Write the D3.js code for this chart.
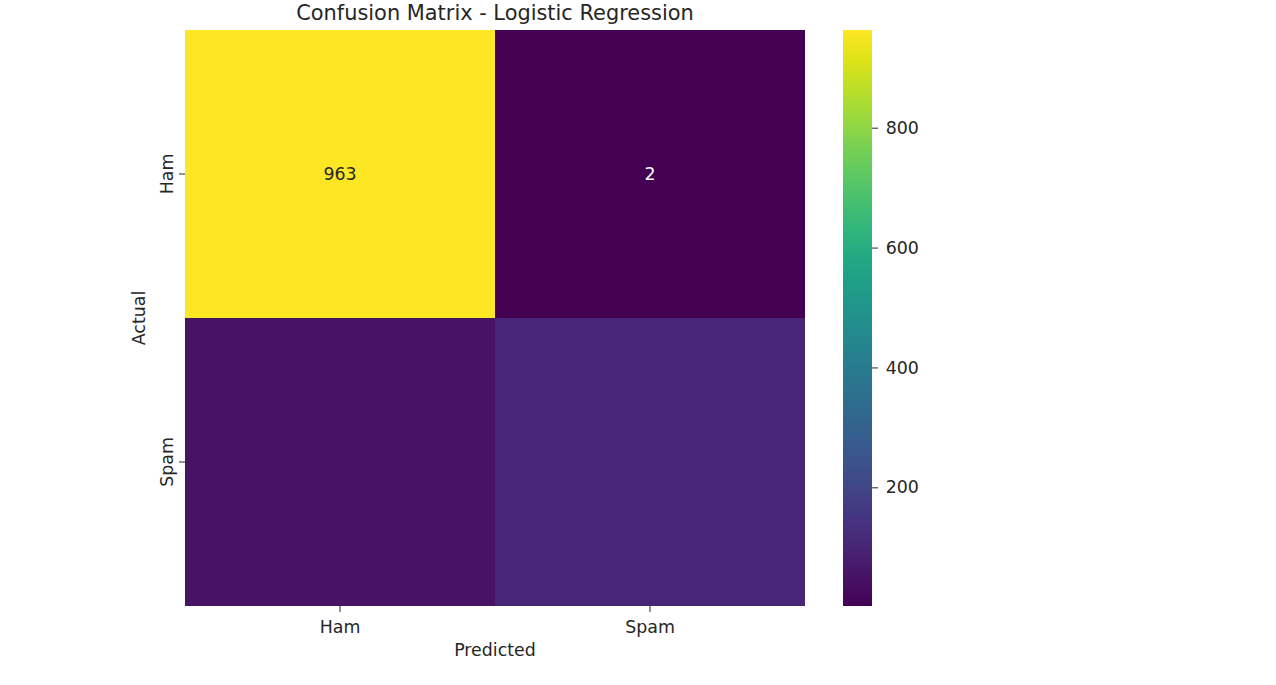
<!DOCTYPE html>
<html>
<head>
<meta charset="utf-8">
<script src="https://cdn.jsdelivr.net/npm/d3@7"></script>
<style>
  html, body { margin: 0; padding: 0; background: #fff; }
  svg { display: block; font-family: "DejaVu Sans", sans-serif; }
</style>
</head>
<body>
<svg id="chart" width="1276" height="685"></svg>
<script>
// ---- data ----
const actualLabels = ["Ham", "Spam"];
const predictedLabels = ["Ham", "Spam"];
const hamRow = [963, 2];
const spamRow = [50, 100];
const annotatedRows = ["Ham"]; // only the first row shows its numbers in the reference
const colorbarTicks = [200, 400, 600, 800];
const title = "Confusion Matrix - Logistic Regression";

const matrix = [hamRow, spamRow];
const cells = [];
actualLabels.forEach((a, i) => predictedLabels.forEach((p, j) => cells.push({actual: a, predicted: p, value: matrix[i][j]})));
const vmin = d3.min(cells, d => d.value), vmax = d3.max(cells, d => d.value);

const svg = d3.select("#chart");
const mLeft = 185, mRight = 805, mTop = 30, mBottom = 606;
const textColor = "#262626";
const fs = 17.4, titleFs = 20.9;

const x = d3.scaleBand().domain(predictedLabels).range([mLeft, mRight]);
const y = d3.scaleBand().domain(actualLabels).range([mTop, mBottom]);
const color = d3.scaleSequential(d3.interpolateViridis).domain([vmin, vmax]);

// cells
svg.append("g").selectAll("rect").data(cells).join("rect")
  .attr("x", d => x(d.predicted)).attr("y", d => y(d.actual))
  .attr("width", x.bandwidth()).attr("height", y.bandwidth())
  .attr("fill", d => color(d.value))
  .attr("shape-rendering", "crispEdges");

// annotations
svg.append("g").selectAll("text").data(cells.filter(d => annotatedRows.includes(d.actual))).join("text")
  .attr("x", d => x(d.predicted) + x.bandwidth() / 2)
  .attr("y", d => y(d.actual) + y.bandwidth() / 2)
  .attr("dy", "0.36em").attr("text-anchor", "middle")
  .attr("font-size", fs)
  .attr("fill", d => d3.hsl(color(d.value)).l > 0.5 ? textColor : "#ffffff")
  .text(d => d.value);

// x axis
const xAxis = svg.append("g").attr("transform", `translate(0,${mBottom})`)
  .call(d3.axisBottom(x).tickSize(6).tickPadding(8.6));
xAxis.select(".domain").remove();
xAxis.selectAll("line").attr("stroke", textColor).attr("stroke-width", 1);
xAxis.selectAll("text").attr("font-size", fs).attr("fill", textColor).attr("font-family", "DejaVu Sans");

// y axis (rotated labels)
const yAxis = svg.append("g").attr("transform", `translate(${mLeft},0)`)
  .call(d3.axisLeft(y).tickSize(6).tickPadding(6));
yAxis.select(".domain").remove();
yAxis.selectAll("line").attr("stroke", textColor);
yAxis.selectAll("text")
  .attr("font-size", fs).attr("fill", textColor).attr("font-family", "DejaVu Sans")
  .attr("text-anchor", "middle").attr("dy", null)
  .attr("transform", "translate(-12,0) rotate(-90)")
  .attr("x", 0).attr("y", 0);

// axis titles
svg.append("text").attr("x", (mLeft + mRight) / 2).attr("y", 656)
  .attr("text-anchor", "middle").attr("font-size", fs).attr("fill", textColor).text("Predicted");
svg.append("text").attr("transform", `translate(144.5,${(mTop + mBottom) / 2}) rotate(-90)`)
  .attr("text-anchor", "middle").attr("font-size", fs).attr("fill", textColor).text("Actual");

// title
svg.append("text").attr("x", (mLeft + mRight) / 2).attr("y", 20)
  .attr("text-anchor", "middle").attr("font-size", titleFs).attr("fill", textColor).text(title);

// colorbar
const cbLeft = 843, cbRight = 872;
const cbScale = d3.scaleLinear().domain([vmin, vmax]).range([mBottom, mTop]);
const defs = svg.append("defs");
const grad = defs.append("linearGradient").attr("id", "cbgrad")
  .attr("x1", 0).attr("x2", 0).attr("y1", 1).attr("y2", 0);
d3.range(0, 1.0001, 0.05).forEach(t => grad.append("stop").attr("offset", t).attr("stop-color", d3.interpolateViridis(t)));
svg.append("rect").attr("x", cbLeft).attr("y", mTop).attr("width", cbRight - cbLeft).attr("height", mBottom - mTop)
  .attr("fill", "url(#cbgrad)");
const cbAxis = svg.append("g").attr("transform", `translate(${cbRight},0)`)
  .call(d3.axisRight(cbScale).tickValues(colorbarTicks).tickSize(6).tickPadding(7.7));
cbAxis.select(".domain").remove();
cbAxis.selectAll("line").attr("stroke", textColor);
cbAxis.selectAll("text").attr("font-size", fs).attr("fill", textColor).attr("font-family", "DejaVu Sans");
</script>
</body>
</html>
